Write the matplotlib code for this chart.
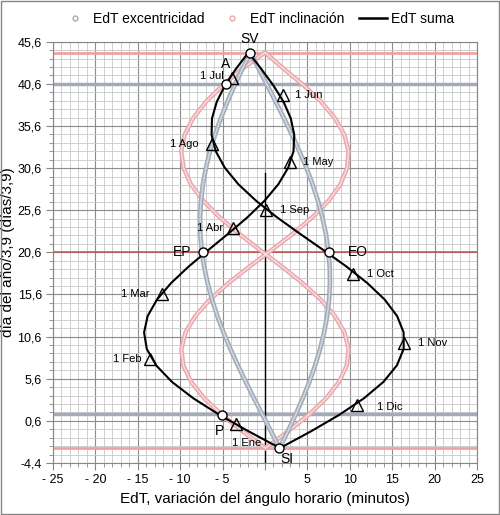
import matplotlib
matplotlib.use("Agg")
from matplotlib import pyplot as plt
from matplotlib import ticker
from matplotlib.lines import Line2D
from matplotlib.patches import Rectangle
import numpy as np

# día del año / 3,9 : de SI (21 dic) sube hasta SV y vuelve a bajar, un punto cada ~7,6 días
DIA = [-2.60, -0.65, 1.31, 3.27, 5.22, 7.18, 9.13, 11.09, 13.04, 15.00, 16.95, 18.91,
       20.86, 22.82, 24.77, 26.73, 28.68, 30.64, 32.59, 34.55, 36.50, 38.46, 40.41, 42.37,
       44.32,
       42.37, 40.41, 38.46, 36.50, 34.55, 32.59, 30.64, 28.68, 26.73, 24.77, 22.82, 20.86,
       18.91, 16.95, 15.00, 13.04, 11.09, 9.13, 7.18, 5.22, 3.27, 1.31, -0.65, -2.60]

# minutos
EDT_EXC = [1.70, 0.71, -0.29, -1.29, -2.26, -3.20, -4.08, -4.89, -5.62, -6.25, -6.77, -7.18,
           -7.47, -7.63, -7.66, -7.55, -7.32, -6.96, -6.49, -5.90, -5.21, -4.44, -3.59, -2.67,
           -1.71,
           -0.73, 0.28, 1.27, 2.25, 3.18, 4.06, 4.88, 5.61, 6.24, 6.76, 7.18, 7.46,
           7.63, 7.66, 7.56, 7.33, 6.97, 6.50, 5.91, 5.23, 4.45, 3.60, 2.69, 1.73]

EDT_INC = [0.00, -2.63, -5.08, -7.15, -8.71, -9.63, -9.86, -9.38, -8.22, -6.49, -4.31, -1.83,
           0.76, 3.30, 5.59, 7.50, 8.90, 9.69, 9.85, 9.36, 8.26, 6.63, 4.58, 2.23,
           0.00,
           -2.71, -5.00, -6.97, -8.50, -9.48, -9.87, -9.61, -8.74, -7.29, -5.36, -3.07, -0.57,
           1.99, 4.42, 6.56, 8.25, 9.38, 9.86, 9.64, 8.73, 7.21, 5.15, 2.72, 0.09]

EDT_SUMA = [1.70, -1.92, -5.37, -8.44, -10.97, -12.83, -13.94, -14.26, -13.84, -12.74, -11.08, -9.01,
            -6.70, -4.33, -2.06, -0.05, 1.57, 2.73, 3.36, 3.45, 3.04, 2.19, 0.99, -0.44,
            -1.96,
            -3.43, -4.72, -5.69, -6.25, -6.30, -5.80, -4.74, -3.14, -1.06, 1.40, 4.10, 6.90,
            9.61, 12.07, 14.11, 15.58, 16.35, 16.35, 15.55, 13.96, 11.66, 8.75, 5.41, 1.82]

FECHA_ETQ = ["1 Ene", "1 Feb", "1 Mar", "1 Abr", "1 May", "1 Jun",
             "1 Jul", "1 Ago", "1 Sep", "1 Oct", "1 Nov", "1 Dic"]
FECHA_X = [-3.4, -13.6, -12.2, -3.8, 3.0, 2.1, -3.85, -6.3, 0.1, 10.4, 16.4, 10.8]
FECHA_Y = [0.2, 8.0, 15.6, 23.5, 31.3, 39.25, 41.3, 33.5, 25.6, 18.0, 9.9, 2.5]

EVENTO_ETQ = ["SV", "A", "EP", "EO", "P", "SI"]
EVENTO_X = [-1.8, -4.6, -7.3, 7.5, -5.1, 1.6]
EVENTO_Y = [44.3, 40.6, 20.6, 20.6, 1.3, -2.6]

Y_SOLSTICIO = [44.3, -2.6]
Y_EQUINOCCIO = 20.6
Y_APSIDES = [40.6, 1.4]

YTICKS = [-4.4, 0.6, 5.6, 10.6, 15.6, 20.6, 25.6, 30.6, 35.6, 40.6, 45.6]
XTICKS = [-25, -20, -15, -10, -5, 0, 5, 10, 15, 20, 25]
XTICK_LABELS = ["- 25", "- 20", "- 15", "- 10", "- 5", "", "5", "10", "15", "20", "25"]

# offsets de las etiquetas (pixels)
OFF_FECHA = {
    "1 Ene": (10, -19, "center"), "1 Feb": (-8, 0, "right"), "1 Mar": (-12, 0, "right"),
    "1 Abr": (-10, 0, "right"), "1 May": (13, 0, "left"), "1 Jun": (12, 0, "left"),
    "1 Jul": (-9, 2, "right"), "1 Ago": (-13, 0, "right"), "1 Sep": (14, 0, "left"),
    "1 Oct": (14, 0, "left"), "1 Nov": (14, 0, "left"), "1 Dic": (20, -2, "left"),
}
OFF_EVENTO = {
    "SV": (0, 14), "A": (0, 20), "EP": (-21, 0), "EO": (29, 0), "P": (-2, -16), "SI": (8, -11),
}

GRIS = "#a3acbb"
GRIS_CLARO = "#d3d8e0"
ROJO = "#eaa7ac"
ROJO_CLARO = "#f8dadc"
FONT = "Liberation Sans"

plt.rcParams.update({"font.family": FONT, "font.size": 9})
fig = plt.figure(figsize=(5.0, 5.15), dpi=100)
ax = fig.add_axes([0.106, 0.101, 0.848, 0.818])

ax.set_xlim(-25, 25)
ax.set_ylim(-4.4, 45.6)

# rejilla
ax.xaxis.set_major_locator(ticker.FixedLocator(XTICKS))
ax.xaxis.set_minor_locator(ticker.MultipleLocator(1))
ax.yaxis.set_major_locator(ticker.FixedLocator(YTICKS))
ax.yaxis.set_minor_locator(ticker.FixedLocator(np.arange(-4.4, 45.7, 1.0)))
ax.grid(which="minor", color="#c8c8c8", linewidth=0.6, zorder=0)
ax.grid(which="major", color="#8c8c8c", linewidth=0.8, zorder=0)
ax.set_axisbelow(True)
ax.set_xticklabels(XTICK_LABELS)
ax.set_yticklabels([f"{v:.1f}".replace(".", ",") for v in YTICKS])
ax.tick_params(which="major", direction="out", length=5, color="#868686", labelsize=9, pad=3)
ax.tick_params(which="minor", direction="out", length=3, color="#868686")
for s in ax.spines.values():
    s.set_color("#868686")

# lineas de referencia
for y in Y_SOLSTICIO:
    ax.axhline(y, color="#eea3a3", linewidth=2, zorder=1)
for y in Y_APSIDES:
    ax.axhline(y, color="#a3abb9", linewidth=2.5, zorder=1)
ax.axhline(Y_EQUINOCCIO, color="#c0504d", linewidth=1.1, zorder=1)
ax.plot([0, 0], [-4.4, 30.0], color="black", linewidth=1, zorder=2)

# series
ax.plot(EDT_INC, DIA, color=ROJO, linewidth=3.2, zorder=3, solid_joinstyle="round")
ax.plot(EDT_INC, DIA, color=ROJO_CLARO, linewidth=1.1, zorder=3, solid_joinstyle="round")
ax.plot(EDT_EXC, DIA, color=GRIS, linewidth=3.4, zorder=3, solid_joinstyle="round")
ax.plot(EDT_EXC, DIA, color=GRIS_CLARO, linewidth=1.1, zorder=3, solid_joinstyle="round")
ax.plot(EDT_SUMA, DIA, color="black", linewidth=1.5, zorder=4, solid_joinstyle="round")

# fechas
ax.plot(FECHA_X, FECHA_Y, linestyle="none", marker="^", markersize=8,
        mfc="none", mec="black", mew=1.0, zorder=5)
for etq, x, y in zip(FECHA_ETQ, FECHA_X, FECHA_Y):
    dx, dy, ha = OFF_FECHA[etq]
    ax.annotate(etq, (x, y), xytext=(dx, dy), textcoords="offset pixels",
                ha=ha, va="center", fontsize=8, zorder=6)

# eventos
ax.plot(EVENTO_X, EVENTO_Y, linestyle="none", marker="o", markersize=6.5,
        mfc="white", mec="black", mew=1.0, zorder=6)
for etq, x, y in zip(EVENTO_ETQ, EVENTO_X, EVENTO_Y):
    dx, dy = OFF_EVENTO[etq]
    ax.annotate(etq, (x, y), xytext=(dx, dy), textcoords="offset pixels",
                ha="center", va="center", fontsize=10, zorder=6)

ax.set_xlabel("EdT, variación del ángulo horario (minutos)", fontsize=11, labelpad=4)
ax.set_ylabel("día del año/3,9 (días/3,9)", fontsize=11, labelpad=2)

handles = [
    Line2D([], [], linestyle="none", marker="o", markersize=3.5, mfc="none", mec=GRIS, mew=1.0),
    Line2D([], [], linestyle="none", marker="o", markersize=3.5, mfc="none", mec=ROJO, mew=1.0),
    Line2D([], [], color="black", linewidth=1.8),
]
fig.legend(handles, ["EdT excentricidad", "EdT inclinación", "EdT suma"],
           loc="center", bbox_to_anchor=(0.515, 0.964), ncol=3, frameon=False,
           fontsize=10, handlelength=2.0, columnspacing=1.0, handletextpad=0.3)

fig.patches.append(Rectangle((0.002, 0.002), 0.996, 0.996, transform=fig.transFigure,
                             fill=False, edgecolor="#868686", linewidth=1))

plt.savefig("out.png", dpi=100)
plt.close()
